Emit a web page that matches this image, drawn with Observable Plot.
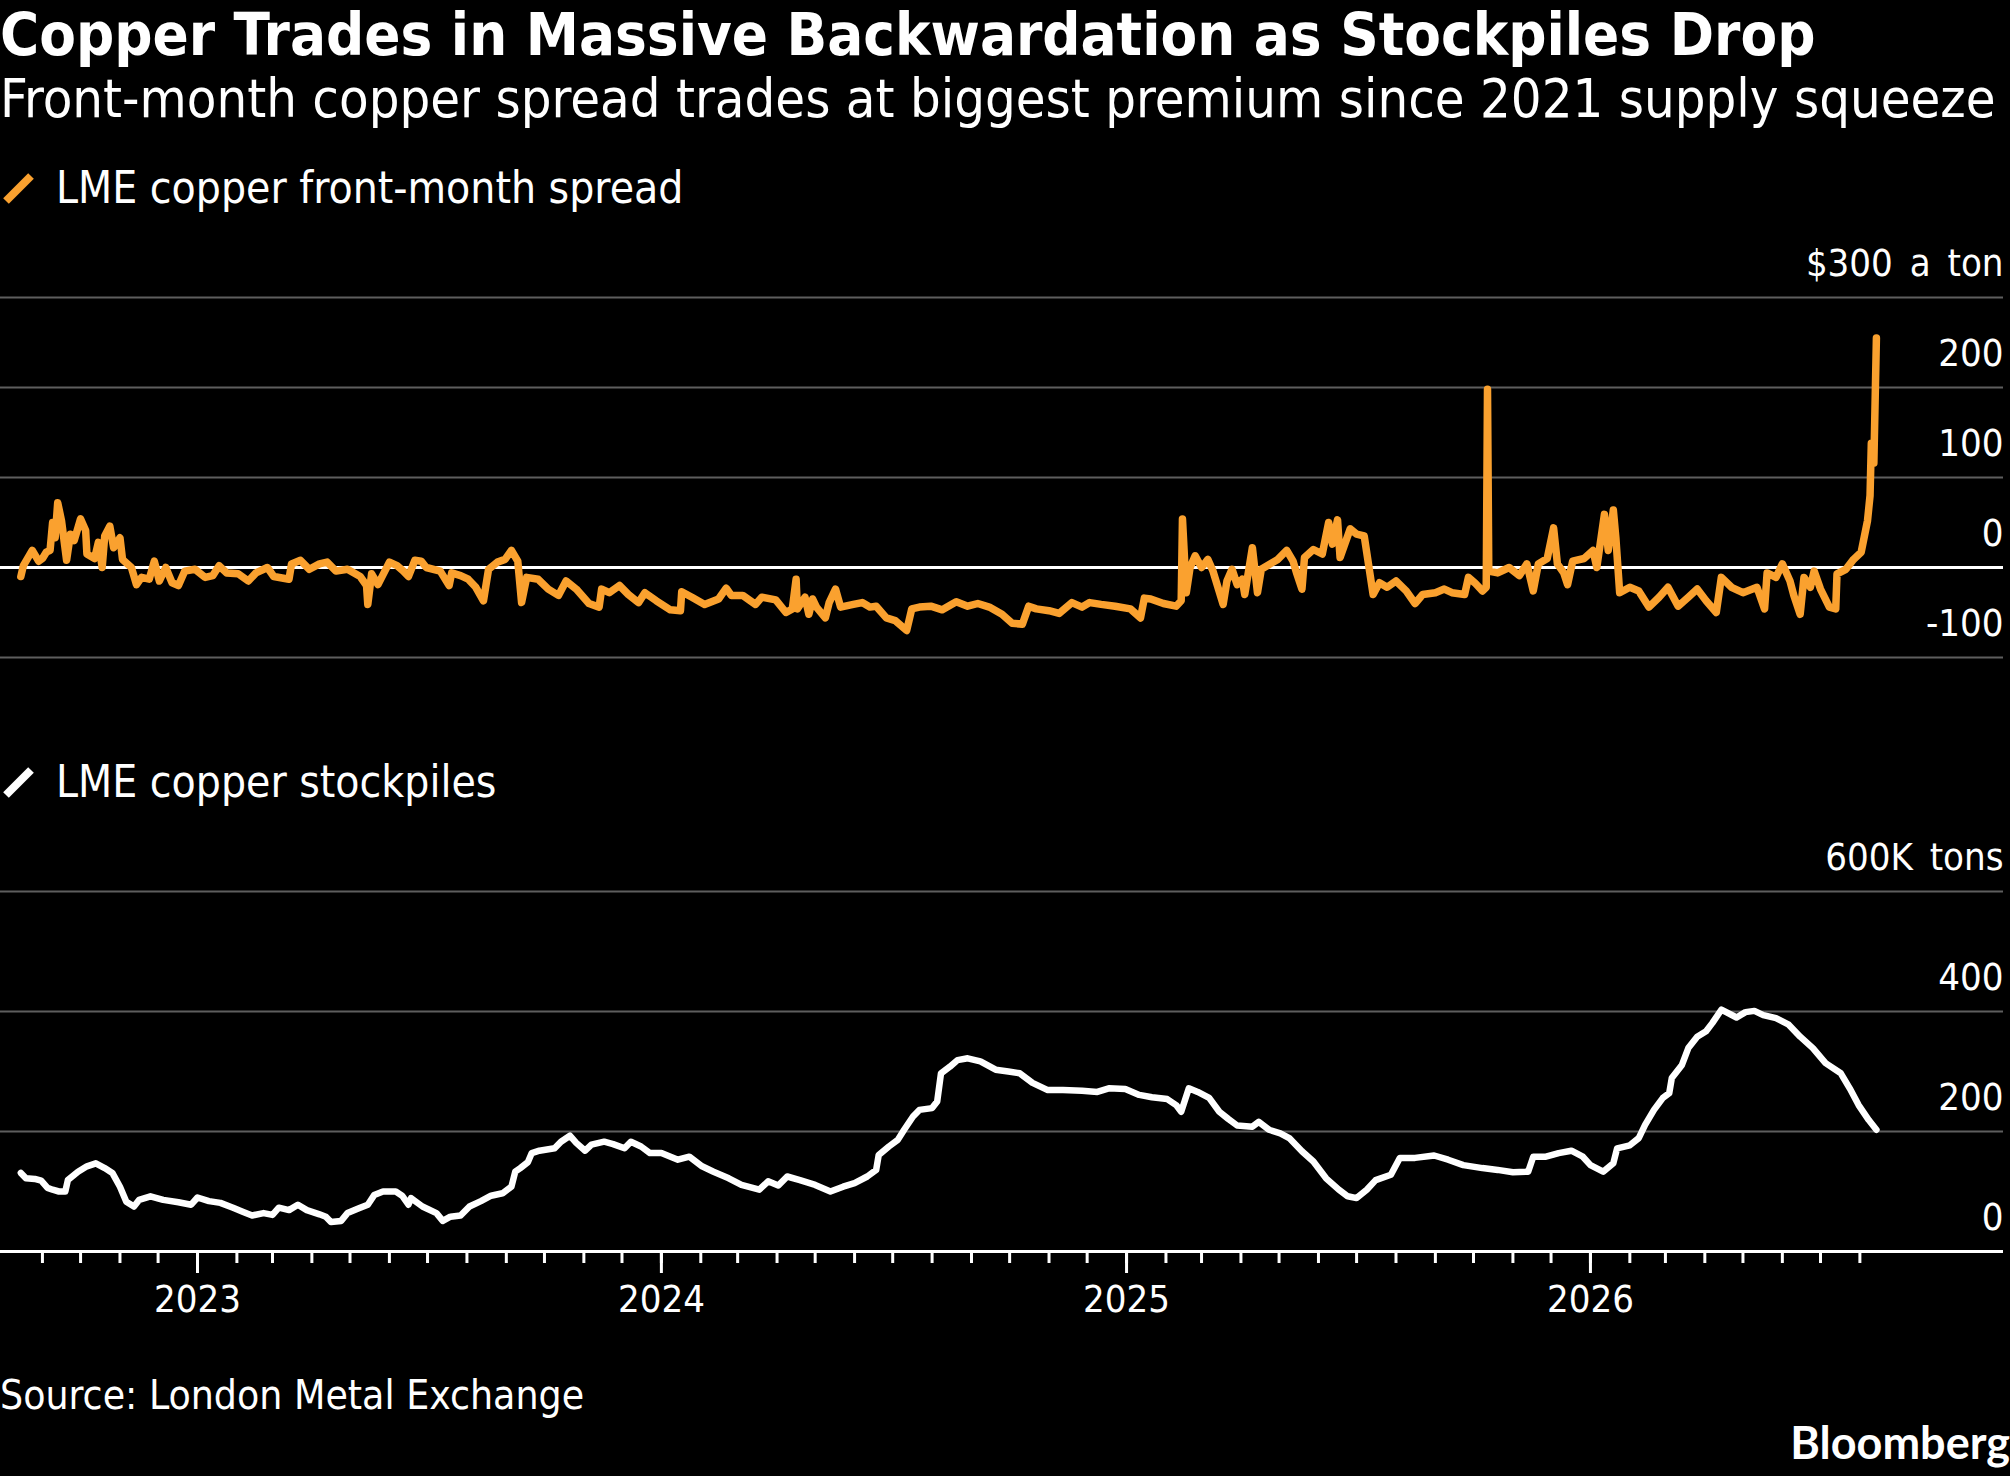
<!DOCTYPE html>
<html><head><meta charset="utf-8">
<script src="https://cdn.jsdelivr.net/npm/d3@7"></script>
<script src="https://cdn.jsdelivr.net/npm/@observablehq/plot@0.6"></script>
<style>
html,body{margin:0;padding:0;background:#000;}
body{width:2010px;height:1476px;position:relative;overflow:hidden;color:#fff;font-family:"DejaVu Sans Condensed","DejaVu Sans",sans-serif;}
.t{position:absolute;left:0;white-space:nowrap;line-height:1;}
#title{font-weight:bold;font-size:59.4px;top:5px;}
#subtitle{font-size:53.9px;top:71.5px;}
.leg{font-size:44px;left:56px;}
#leg1{top:166px;}
#leg2{top:760px;}
#source{font-size:40.5px;top:1374.5px;}
#logo{position:absolute;right:0;top:1420px;line-height:1;font-family:Lato,"Open Sans",sans-serif;font-weight:bold;font-size:45px;}
.icon{position:absolute;left:0;}
#p1{position:absolute;left:0;top:230px;}
#p2{position:absolute;left:0;top:824px;}
</style>
</head><body>
<div id="title" class="t">Copper Trades in Massive Backwardation as Stockpiles Drop</div>
<div id="subtitle" class="t">Front-month copper spread trades at biggest premium since 2021 supply squeeze</div>
<svg class="icon" style="top:168px" width="40" height="40"><line x1="6" y1="33" x2="31" y2="8" stroke="#faa12f" stroke-width="8"/></svg>
<div id="leg1" class="t leg">LME copper front-month spread</div>
<svg class="icon" style="top:762px" width="40" height="40"><line x1="6" y1="33" x2="31" y2="8" stroke="#ffffff" stroke-width="8"/></svg>
<div id="leg2" class="t leg">LME copper stockpiles</div>
<div id="p1"></div>
<div id="p2"></div>
<div id="source" class="t">Source: London Metal Exchange</div>
<div id="logo">Bloomberg</div>
<script>
// LME copper front-month spread, $ a ton
const spreadDates = [
"2022-08-15","2022-08-17","2022-08-24","2022-08-29","2022-09-01","2022-09-04","2022-09-07","2022-09-09","2022-09-11","2022-09-13",
"2022-09-16","2022-09-20","2022-09-23","2022-09-26","2022-10-01","2022-10-05","2022-10-06","2022-10-12","2022-10-15","2022-10-18",
"2022-10-20","2022-10-24","2022-10-27","2022-11-01","2022-11-03","2022-11-10","2022-11-14","2022-11-18","2022-11-24","2022-11-28",
"2022-12-02","2022-12-07","2022-12-12","2022-12-17","2022-12-22","2022-12-30","2023-01-07","2023-01-13","2023-01-18","2023-01-24",
"2023-02-02","2023-02-10","2023-02-16","2023-02-25","2023-03-02","2023-03-14","2023-03-16","2023-03-23","2023-03-30","2023-04-07",
"2023-04-13","2023-04-20","2023-04-29","2023-05-09","2023-05-14","2023-05-15","2023-05-18","2023-05-23","2023-06-01","2023-06-07",
"2023-06-12","2023-06-16","2023-06-21","2023-06-26","2023-06-30","2023-07-11","2023-07-18","2023-07-20","2023-07-27","2023-08-02",
"2023-08-08","2023-08-14","2023-08-18","2023-08-25","2023-08-31","2023-09-05","2023-09-10","2023-09-13","2023-09-17","2023-09-26",
"2023-10-04","2023-10-12","2023-10-18","2023-10-26","2023-11-05","2023-11-13","2023-11-15","2023-11-21","2023-11-29","2023-12-06",
"2023-12-14","2023-12-19","2023-12-28","2024-01-08","2024-01-16","2024-01-17","2024-01-25","2024-02-04","2024-02-15","2024-02-21",
"2024-02-25","2024-03-05","2024-03-15","2024-03-20","2024-03-31","2024-04-08","2024-04-13","2024-04-16","2024-04-17","2024-04-23",
"2024-04-26","2024-04-29","2024-05-02","2024-05-09","2024-05-12","2024-05-17","2024-05-21","2024-05-31","2024-06-07","2024-06-13",
"2024-06-18","2024-06-26","2024-07-03","2024-07-12","2024-07-16","2024-07-22","2024-07-31","2024-08-09","2024-08-20","2024-08-29",
"2024-09-06","2024-09-15","2024-09-25","2024-10-03","2024-10-11","2024-10-16","2024-10-22","2024-11-01","2024-11-09","2024-11-19",
"2024-11-27","2024-12-03","2024-12-12","2024-12-23","2025-01-04","2025-01-12","2025-01-15","2025-01-20","2025-01-30","2025-02-09",
"2025-02-13","2025-02-14","2025-02-17","2025-02-20","2025-02-24","2025-03-01","2025-03-06","2025-03-10","2025-03-18","2025-03-21",
"2025-03-25","2025-03-29","2025-04-02","2025-04-04","2025-04-10","2025-04-14","2025-04-17","2025-04-24","2025-04-30","2025-05-07",
"2025-05-12","2025-05-15","2025-05-19","2025-05-21","2025-05-28","2025-06-04","2025-06-09","2025-06-12","2025-06-16","2025-06-18",
"2025-06-26","2025-07-01","2025-07-07","2025-07-14","2025-07-19","2025-07-25","2025-08-01","2025-08-09","2025-08-16","2025-08-22",
"2025-09-01","2025-09-08","2025-09-14","2025-09-24","2025-09-27","2025-10-02","2025-10-08","2025-10-11","2025-10-12","2025-10-13",
"2025-10-20","2025-10-29","2025-11-06","2025-11-12","2025-11-17","2025-11-21","2025-11-28","2025-12-03","2025-12-06","2025-12-11",
"2025-12-14","2025-12-18","2025-12-27","2026-01-03","2026-01-06","2026-01-12","2026-01-15","2026-01-19","2026-01-21","2026-01-24",
"2026-02-01","2026-02-08","2026-02-16","2026-02-24","2026-03-03","2026-03-11","2026-03-19","2026-03-26","2026-04-02","2026-04-10",
"2026-04-14","2026-04-22","2026-05-01","2026-05-12","2026-05-18","2026-05-20","2026-05-27","2026-06-01","2026-06-07","2026-06-10",
"2026-06-15","2026-06-18","2026-06-23","2026-06-26","2026-07-01","2026-07-08","2026-07-13","2026-07-14","2026-07-21","2026-07-27",
"2026-08-02","2026-08-07","2026-08-09","2026-08-10","2026-08-12","2026-08-14"
];
const spreadValues = [
-10,2,19,7,10,17,19,50,33,72,
52,8,37,30,54,41,15,10,28,0,
35,46,22,33,9,0,-19,-11,-13,7,
-15,0,-17,-20,-4,-2,-11,-9,2,-6,
-7,-15,-6,0,-10,-13,4,8,-2,4,
6,-4,-2,-10,-20,-41,-7,-19,6,2,
-4,-10,8,7,0,-4,-20,-6,-9,-13,
-22,-37,-2,6,9,19,7,-39,-11,-13,
-24,-31,-15,-24,-40,-44,-24,-28,-20,-30,
-39,-28,-37,-47,-48,-27,-33,-41,-35,-23,
-31,-31,-41,-33,-36,-50,-46,-13,-46,-33,
-52,-35,-44,-56,-39,-24,-44,-41,-39,-44,
-43,-56,-59,-70,-46,-44,-43,-47,-38,-43,
-40,-44,-52,-62,-63,-43,-46,-48,-51,-39,
-44,-39,-41,-43,-46,-56,-34,-35,-40,-43,
-37,54,-28,0,13,0,9,-4,-41,-15,
-2,-19,-13,-30,22,-28,-2,4,9,19,
7,-7,-24,11,20,15,50,26,53,11,
43,37,35,-30,-17,-22,-15,-26,-40,-30,
-28,-24,-28,-30,-11,-17,-26,-22,198,-4,
-6,0,-9,4,-26,4,10,44,4,-6,
-19,7,10,19,0,59,19,64,33,-28,
-22,-26,-44,-33,-22,-43,-33,-24,-37,-50,
-11,-22,-28,-22,-46,-6,-11,4,-15,-31,
-52,-11,-22,-4,-24,-44,-46,-7,-2,9,
17,52,80,138,116,255
];
// LME copper stockpiles, thousand tons
const stockDates = [
"2022-08-15","2022-08-19","2022-08-26","2022-08-31","2022-09-05","2022-09-09","2022-09-14","2022-09-19","2022-09-21","2022-09-29",
"2022-10-06","2022-10-13","2022-10-20","2022-10-26","2022-11-01","2022-11-06","2022-11-12","2022-11-16","2022-11-25","2022-12-05",
"2022-12-17","2022-12-27","2023-01-01","2023-01-10","2023-01-19","2023-01-29","2023-02-06","2023-02-13","2023-02-22","2023-03-01",
"2023-03-06","2023-03-14","2023-03-21","2023-03-28","2023-04-07","2023-04-12","2023-04-16","2023-04-24","2023-04-29","2023-05-08",
"2023-05-15","2023-05-20","2023-05-27","2023-06-06","2023-06-11","2023-06-16","2023-06-18","2023-06-27","2023-07-08","2023-07-13",
"2023-07-19","2023-07-27","2023-08-03","2023-08-12","2023-08-20","2023-08-29","2023-09-05","2023-09-08","2023-09-12","2023-09-18",
"2023-09-21","2023-09-27","2023-10-09","2023-10-14","2023-10-21","2023-10-26","2023-11-02","2023-11-07","2023-11-17","2023-11-24",
"2023-12-03","2023-12-08","2023-12-16","2023-12-23","2024-01-01","2024-01-14","2024-01-23","2024-02-02","2024-02-11","2024-02-23",
"2024-03-04","2024-03-18","2024-03-25","2024-04-02","2024-04-09","2024-04-19","2024-05-01","2024-05-13","2024-05-23","2024-06-01",
"2024-06-11","2024-06-18","2024-06-20","2024-06-28","2024-07-05","2024-07-10","2024-07-17","2024-07-22","2024-08-01","2024-08-05",
"2024-08-08","2024-08-15","2024-08-21","2024-08-29","2024-09-08","2024-09-20","2024-09-30","2024-10-09","2024-10-19","2024-10-31",
"2024-11-12","2024-11-27","2024-12-09","2024-12-18","2024-12-31","2025-01-11","2025-01-21","2025-02-02","2025-02-09","2025-02-13",
"2025-02-19","2025-02-26","2025-03-07","2025-03-15","2025-03-22","2025-03-29","2025-04-10","2025-04-15","2025-04-23","2025-05-02",
"2025-05-09","2025-05-19","2025-05-28","2025-06-07","2025-06-17","2025-06-24","2025-07-01","2025-07-09","2025-07-16","2025-07-28",
"2025-08-04","2025-08-16","2025-08-31","2025-09-11","2025-09-23","2025-10-08","2025-10-20","2025-11-01","2025-11-13","2025-11-17",
"2025-11-27","2025-12-07","2025-12-17","2025-12-26","2026-01-01","2026-01-11","2026-01-19","2026-01-22","2026-02-01","2026-02-08",
"2026-02-13","2026-02-20","2026-02-27","2026-03-04","2026-03-06","2026-03-14","2026-03-19","2026-03-26","2026-04-02","2026-04-07",
"2026-04-14","2026-04-26","2026-05-03","2026-05-10","2026-05-17","2026-05-27","2026-06-06","2026-06-15","2026-06-25","2026-07-05",
"2026-07-17","2026-07-24","2026-07-31","2026-08-08","2026-08-14"
];
const stockValues = [
131,122,121,118,106,103,100,100,119,133,
142,147,139,131,108,83,75,86,92,86,
82,78,90,84,81,73,66,60,64,61,
73,69,78,69,62,58,49,51,64,72,
78,94,100,100,93,78,89,75,64,51,
58,60,75,84,93,97,108,133,139,149,
164,168,172,183,193,181,168,178,183,179,
172,183,175,164,164,153,158,142,133,122,
111,103,117,110,125,119,111,100,108,114,
125,136,161,175,186,203,225,236,239,250,
297,308,319,322,317,303,300,297,281,269,
269,268,266,272,271,261,257,254,244,233,
272,266,256,233,221,210,208,216,203,197,
189,167,150,122,103,92,89,103,119,128,
156,156,160,153,144,139,136,132,133,158,
158,164,168,158,144,133,147,172,177,189,
211,236,256,264,289,311,339,358,367,381,
403,390,399,401,394,389,378,358,339,314,
297,272,244,219,203
];
const spreadTicks = [300, 200, 100, 0, -100];
const spreadTickLabels = ["$300 a ton", "200", "100", "0", "-100"];
const stockTicks = [600, 400, 200, 0];
const stockTickLabels = ["600K tons", "400", "200", "0"];

const ORANGE = "#faa12f";
const GRID = "#5e5e5e";

const spread = spreadDates.map((d, i) => ({date: new Date(d), value: spreadValues[i]}));
const stock = stockDates.map((d, i) => ({date: new Date(d), value: stockValues[i]}));

const first = d3.min(stock, d => d.date), last = d3.max(stock, d => d.date);
const monthTicks = d3.utcMonth.range(d3.utcMonth.ceil(first), last);
const yearTicks = d3.utcYear.range(d3.utcYear.ceil(first), last);

const xScale = {type: "utc", domain: [new Date("2022-07-30"), new Date("2026-11-22")], axis: null};
const style = {background: "transparent", color: "#fff", fontFamily: "'DejaVu Sans Condensed','DejaVu Sans',sans-serif", fontSize: "38px", wordSpacing: "6px", overflow: "visible"};

const p1 = Plot.plot({
  width: 2010, height: 447, marginTop: 67, marginBottom: 20, marginLeft: 0, marginRight: 7,
  style, x: xScale, y: {domain: [-100, 300], axis: null},
  marks: [
    Plot.ruleY(spreadTicks.filter(d => d !== 0), {stroke: GRID, strokeWidth: 2}),
    Plot.ruleY([0], {stroke: "#fff", strokeWidth: 3}),
    Plot.lineY(spread, {x: "date", y: "value", stroke: ORANGE, strokeWidth: 7.5, strokeLinejoin: "round"}),
    Plot.text(spreadTicks, {y: d => d, text: (d, i) => spreadTickLabels[i], frameAnchor: "right", textAnchor: "end", lineAnchor: "bottom", dy: -22, fill: "#fff", fontSize: 38})
  ]
});
document.getElementById("p1").append(p1);

const p2 = Plot.plot({
  width: 2010, height: 520, marginTop: 67, marginBottom: 93, marginLeft: 0, marginRight: 7,
  style, x: xScale, y: {domain: [0, 600], axis: null},
  marks: [
    Plot.ruleY(stockTicks.filter(d => d !== 0), {stroke: GRID, strokeWidth: 2}),
    Plot.lineY(stock, {x: "date", y: "value", stroke: "#fff", strokeWidth: 6.5, strokeLinejoin: "round"}),
    Plot.ruleY([0], {stroke: "#fff", strokeWidth: 3}),
    Plot.axisX({ticks: monthTicks, tickSize: 12, tickFormat: () => "", stroke: "#fff", strokeWidth: 3}),
    Plot.axisX({ticks: yearTicks, tickSize: 22, tickPadding: 12, tickFormat: d3.utcFormat("%Y"), stroke: "#fff", strokeWidth: 3, fill: "#fff", fontSize: 38}),
    Plot.text(stockTicks, {y: d => d, text: (d, i) => stockTickLabels[i], frameAnchor: "right", textAnchor: "end", lineAnchor: "bottom", dy: -22, fill: "#fff", fontSize: 38})
  ]
});
document.getElementById("p2").append(p2);
</script>
</body></html>
